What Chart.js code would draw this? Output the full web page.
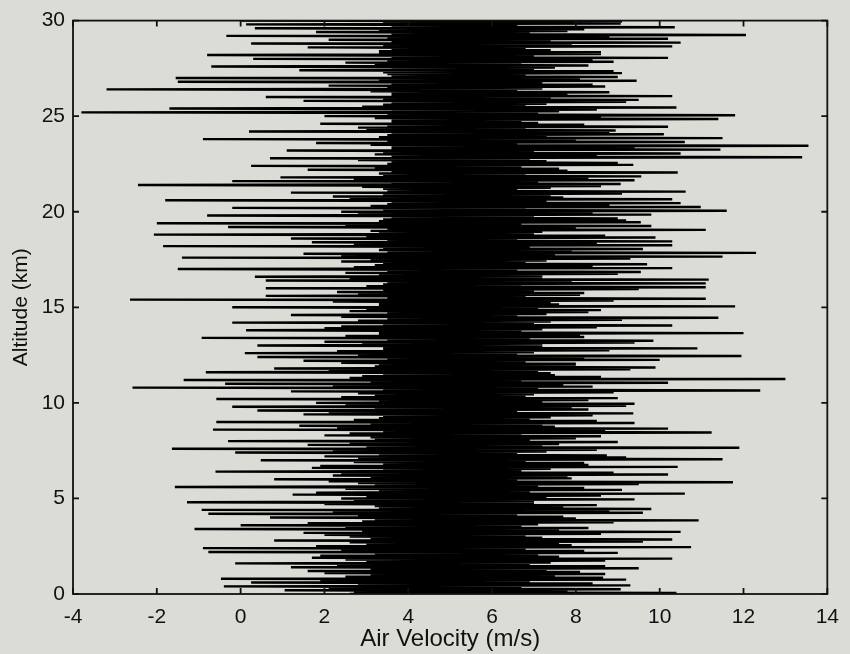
<!DOCTYPE html>
<html>
<head>
<meta charset="utf-8">
<script src="https://cdn.jsdelivr.net/npm/chart.js@4.4.1/dist/chart.umd.min.js"></script>
<style>
  html, body { margin: 0; padding: 0; background: #dcdcd6; }
  #wrap { width: 850px; height: 654px; }
</style>
</head>
<body>
<div id="wrap"><canvas id="profile" width="850" height="654"></canvas></div>
<script>
// altitude sampling step (km); velocity[i] is at altitude i * altStep
const altStep = 0.05;

// air velocity (m/s), one row per km
const velocity = [
  2.6, 10.4, 2.7, 7.8, 1.05, 9.07, 2.1, 6.7, -0.4, 9.3, 2.8, 8.4, 0.25, 6.9, 1.9, 9.2, -0.47, 8.65, 2.5, 7.5,     // 0 km
  3.1, 8.7, 2.0, 8.1, 1.6, 7.3, 3.1, 9.5, 1.2, 8.7, 2.3, 6.9, -0.13, 7.4, 3.0, 8.7, 2.5, 10.3, 1.7, 7.6,          // 1
  1.9, 7.1, 3.2, 9.0, -0.77, 8.2, 2.4, 6.8, -0.9, 10.75, 1.8, 7.9, 3.0, 7.6, 2.6, 9.6, 0.8, 10.3, 3.1, 7.2,       // 2
  2.6, 6.8, 2.0, 8.6, 1.5, 10.5, 2.9, 7.6, -1.1, 8.3, 2.5, 6.7, 0.0, 7.1, 1.6, 8.9, 2.9, 10.93, 3.2, 8.0,         // 3
  0.7, 7.7, 2.8, 6.6, -0.77, 9.6, 2.2, 8.8, -0.93, 9.8, 3.3, 7.7, 3.2, 8.5, 2.0, 7.0, -1.28, 7.0, 2.7, 9.4,       // 4
  2.4, 7.3, 3.0, 8.6, 1.24, 10.6, 1.8, 6.9, 3.3, 9.1, 2.5, 8.2, -1.57, 7.1, 3.2, 9.5, 2.8, 11.75, 2.1, 6.6,       // 5
  0.8, 7.9, 3.1, 7.8, 2.2, 10.2, 2.4, 8.9, -0.6, 6.7, 3.4, 7.4, 1.7, 10.43, 1.9, 8.3, 3.4, 8.2, 2.7, 6.8,         // 6
  0.48, 11.5, 2.8, 9.2, 2.0, 8.74, 3.3, 6.6, -0.13, 7.3, 2.2, 8.5, -1.64, 11.9, 3.0, 7.2, 1.6, 7.6, 2.6, 9.0,     // 7
  -0.3, 6.9, 3.2, 8.0, 3.1, 8.6, 2.0, 6.7, 2.6, 11.24, 3.4, 8.7, -0.66, 10.2, 2.3, 7.5, 1.4, 7.2, 3.1, 9.4,       // 8
  -0.58, 8.5, 2.7, 6.9, 3.3, 7.4, 3.4, 8.4, 1.5, 9.37, 2.1, 6.6, 0.4, 8.3, 3.2, 7.9, -0.2, 9.2, 2.5, 9.4,         // 9
  1.8, 7.2, 3.3, 8.3, -0.58, 9.0, 2.4, 6.8, 3.2, 7.0, 2.8, 8.9, 1.2, 12.4, 3.4, 7.1, -2.58, 8.4, 2.2, 7.7,        // 10
  -0.37, 10.2, 3.1, 6.7, -1.36, 13.0, 2.6, 8.6, 2.9, 7.5, 3.4, 7.4, -0.83, 7.1, 2.1, 9.3, 0.8, 9.9, 3.2, 8.0,     // 11
  3.3, 8.0, 2.4, 6.8, 1.5, 10.0, 3.5, 8.2, 0.4, 11.95, 2.8, 6.6, 0.1, 7.0, 2.3, 8.8, 3.4, 10.9, 3.4, 7.2,         // 12
  0.4, 7.2, 2.9, 9.4, 2.0, 9.85, 3.5, 6.9, -0.93, 8.2, 2.5, 8.1, 3.3, 12.0, 3.3, 6.7, 0.13, 7.2, 2.0, 8.5,        // 13
  2.4, 10.3, 3.4, 7.0, -0.2, 7.4, 2.8, 9.1, 3.5, 11.4, 2.4, 6.6, 1.2, 7.3, 3.5, 8.3, 2.6, 8.6, 3.0, 7.1,          // 14
  -0.2, 11.8, 3.3, 7.6, 3.3, 7.4, 2.2, 8.9, -2.64, 11.1, 3.5, 6.8, 0.6, 8.1, 2.8, 8.2, 2.3, 7.0, 3.4, 9.5,        // 15
  0.6, 11.1, 3.0, 6.7, 3.4, 11.1, 3.5, 7.9, 0.6, 11.17, 2.6, 7.2, 0.34, 7.2, 3.3, 9.0, 2.5, 9.55, 3.5, 6.6,       // 16
  -1.5, 10.3, 2.7, 8.4, 3.2, 9.7, 3.4, 6.8, 2.4, 7.3, 3.1, 9.3, -1.4, 11.5, 2.4, 7.5, 1.5, 12.3, 3.5, 7.9,        // 17
  3.3, 9.6, 3.4, 6.9, -1.85, 10.3, 2.7, 8.5, 1.7, 10.3, 3.5, 6.6, 1.2, 9.9, 3.0, 8.7, -2.07, 7.0, 3.3, 7.2,       // 18
  3.1, 11.1, 3.5, 8.0, -0.3, 9.8, 2.5, 6.7, -2.0, 9.55, 3.3, 9.2, 3.4, 9.0, 3.6, 7.0, -0.8, 9.8, 2.8, 8.4,        // 19
  2.4, 11.6, 3.4, 6.8, -0.2, 10.98, 3.1, 8.8, 3.5, 10.5, 3.6, 7.3, -1.8, 10.3, 2.6, 7.7, 2.2, 7.4, 3.4, 9.1,      // 20
  1.2, 10.62, 3.5, 6.6, 3.4, 7.4, 2.9, 8.6, -2.45, 9.07, 3.6, 7.1, -0.2, 9.4, 2.7, 8.3, 0.95, 9.56, 3.4, 6.8,     // 21
  3.3, 10.43, 3.6, 7.8, 1.6, 7.6, 3.2, 6.7, 0.25, 9.37, 3.5, 9.0, 3.6, 7.3, 2.8, 6.9, 0.7, 13.4, 3.6, 8.5,        // 22
  3.2, 10.5, 3.4, 7.0, 1.1, 11.45, 3.6, 9.4, 3.6, 13.55, 3.1, 6.6, 1.8, 10.6, 3.5, 8.0, -0.9, 11.5, 3.3, 7.3,     // 23
  3.5, 10.1, 3.6, 8.8, 0.2, 8.95, 3.0, 6.8, 2.8, 10.2, 3.5, 8.2, 1.9, 7.1, 3.6, 6.7, 3.6, 11.4, 3.2, 8.6,         // 24
  2.0, 11.8, 3.5, 7.1, -3.8, 7.6, 3.6, 8.5, -1.7, 10.4, 2.9, 6.8, 3.4, 7.3, 3.6, 9.2, 1.5, 9.5, 3.4, 7.4,         // 25
  0.6, 10.3, 3.6, 7.8, 3.6, 8.8, 3.1, 6.6, -3.2, 7.2, 3.5, 8.7, 2.1, 8.4, 3.6, 7.2, -1.5, 9.45, 3.3, 8.1,         // 26
  -1.55, 9.0, 3.6, 6.8, 3.5, 9.1, 3.4, 8.9, 1.4, 7.0, 3.6, 7.5, -0.7, 8.3, 3.2, 6.7, 2.5, 8.9, 3.5, 8.4,          // 27
  0.3, 10.2, 3.6, 7.0, -0.8, 8.6, 3.3, 8.6, 3.3, 7.4, 3.6, 6.8, 1.6, 10.3, 3.4, 7.9, 0.25, 10.5, 3.6, 7.4,        // 28
  2.1, 10.2, 3.5, 8.8, -0.34, 12.06, 3.6, 6.9, 1.8, 7.8, 3.3, 8.2, 0.34, 10.36, 3.6, 6.6, 0.13, 9.07, 3.4, 9.1,   // 29
  0.0                                                                                                             // 30
];

const xTicks = [-4, -2, 0, 2, 4, 6, 8, 10, 12, 14];
const yTicks = [0, 5, 10, 15, 20, 25, 30];

const points = velocity.map((v, i) => ({ x: v, y: +(i * altStep).toFixed(2) }));

const tickFont = { family: '"Liberation Sans", Arial, sans-serif', size: 21 };
const ink = '#111';

// draw the plot box with inward tick marks on all four sides
const frameTicks = {
  id: 'frameTicks',
  afterDatasetsDraw(chart) {
    const { ctx, chartArea: a, scales: { x, y } } = chart;
    const len = 6;
    ctx.save();
    ctx.strokeStyle = ink;
    ctx.lineWidth = 1.8;
    ctx.strokeRect(a.left, a.top, a.right - a.left, a.bottom - a.top);
    ctx.beginPath();
    xTicks.forEach(t => {
      const px = x.getPixelForValue(t);
      ctx.moveTo(px, a.bottom); ctx.lineTo(px, a.bottom - len);
      ctx.moveTo(px, a.top); ctx.lineTo(px, a.top + len);
    });
    yTicks.forEach(t => {
      const py = y.getPixelForValue(t);
      ctx.moveTo(a.left, py); ctx.lineTo(a.left + len, py);
      ctx.moveTo(a.right, py); ctx.lineTo(a.right - len, py);
    });
    ctx.stroke();
    ctx.restore();
  }
};

const pageBg = {
  id: 'pageBg',
  beforeDraw(chart) {
    const { ctx, width, height } = chart;
    ctx.save();
    ctx.fillStyle = '#dcdcd6';
    ctx.fillRect(0, 0, width, height);
    ctx.restore();
  }
};

new Chart(document.getElementById('profile'), {
  type: 'line',
  data: {
    datasets: [{
      data: points,
      borderColor: '#000',
      borderWidth: 2.4,
      pointRadius: 0,
      tension: 0,
      fill: false
    }]
  },
  options: {
    responsive: false,
    animation: false,
    devicePixelRatio: 1,
    layout: { padding: { left: 0, right: 14, top: 18, bottom: 0 } },
    plugins: { legend: { display: false }, tooltip: { enabled: false } },
    scales: {
      x: {
        type: 'linear',
        min: -4,
        max: 14,
        afterBuildTicks: s => { s.ticks = xTicks.map(v => ({ value: v })); },
        afterFit: s => { s.height = 60; },
        grid: { display: false, drawTicks: false },
        border: { display: false },
        ticks: { color: ink, font: tickFont, padding: 11, maxRotation: 0 },
        title: { display: true, text: 'Air Velocity (m/s)', color: ink, font: { family: tickFont.family, size: 24 }, padding: { top: 0, bottom: 0 } }
      },
      y: {
        type: 'linear',
        min: 0,
        max: 30,
        afterBuildTicks: s => { s.ticks = yTicks.map(v => ({ value: v })); },
        afterFit: s => { s.width = 73; },
        grid: { display: false, drawTicks: false },
        border: { display: false },
        ticks: { color: ink, font: tickFont, padding: 8 },
        title: { display: true, text: 'Altitude (km)', color: ink, font: tickFont, padding: { top: 9, bottom: 0 } }
      }
    }
  },
  plugins: [pageBg, frameTicks]
});
</script>
</body>
</html>
